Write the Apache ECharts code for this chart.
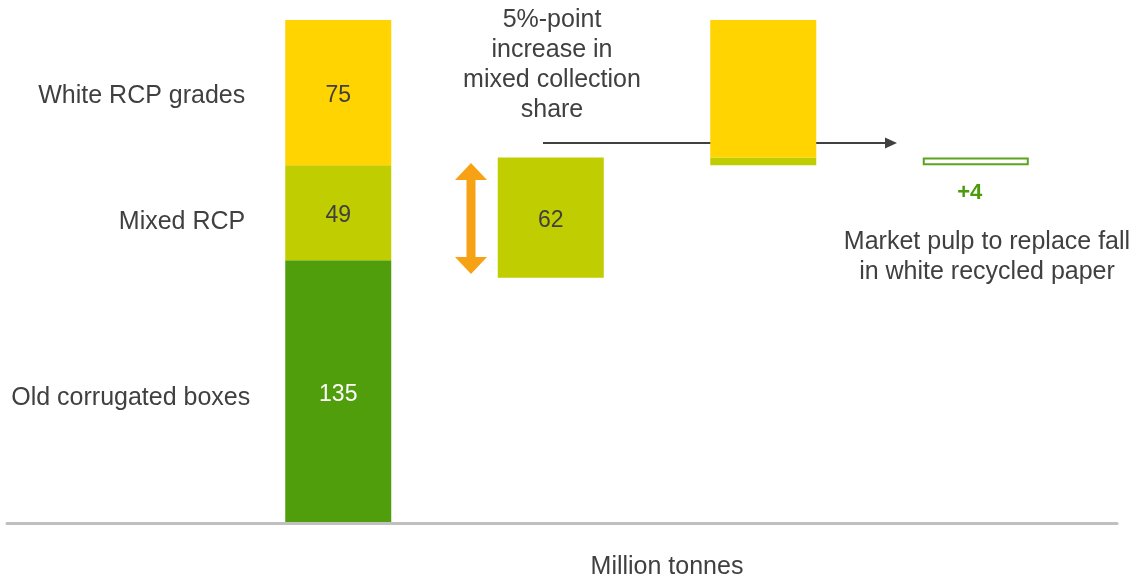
<!DOCTYPE html>
<html>
<head>
<meta charset="utf-8">
<style>
  html, body { margin: 0; padding: 0; background: #fff; }
  #chart { width: 1134px; height: 577px; }
</style>
<script src="https://cdn.jsdelivr.net/npm/echarts@6/dist/echarts.min.js"></script>
</head>
<body>
<div id="chart"></div>
<script>
  // columns of the waterfall
  var steps = ['Today', 'Mixed share', 'White fall', 'Market pulp'];
  // invisible offset under each floating column
  var baseValues = ['-', 126, 184, 184];
  var boxesValues = [135, '-', '-', '-'];
  var mixedValues = [49, 62, 4, '-'];
  var whiteValues = [75, '-', 71, '-'];
  var pulpValues = ['-', '-', '-', 4];
  // which columns print their value inside the bar
  var showValue = [true, true, false, false];
  var rowNames = ['Old corrugated boxes', 'Mixed RCP', 'White RCP grades'];
  var axisMax = 259;

  var font = "'Liberation Sans', Arial, sans-serif";
  var grey = '#404040';

  function items(values, color) {
    return values.map(function (v, i) {
      if (v === '-') return '-';
      return {value: v, label: {show: showValue[i], color: color}};
    });
  }

  // transparent copy of column 1, only to hang the row names on the left
  function nameSeries(name, idx) {
    var vals = [boxesValues[0], mixedValues[0], whiteValues[0]];
    var shift = [[5, 7], [0, 9], [0, 3]][idx];
    return {
      name: name,
      type: 'bar',
      stack: 'names',
      barWidth: 106,
      barGap: '-100%',
      silent: true,
      itemStyle: {color: 'transparent'},
      label: {
        show: true, position: 'left', distance: 40, offset: shift,
        formatter: '{a}', color: grey, fontSize: 25, fontFamily: font
      },
      data: [vals[idx], '-', '-', '-']
    };
  }

  var chart = echarts.init(document.getElementById('chart'));
  var valueLabel = {show: true, position: 'inside', offset: [0, 3], fontSize: 23, fontFamily: font};

  var option = {
    animation: false,
    grid: [
      {left: 232, right: 52, top: 20, bottom: 55, outerBoundsMode: 'none', containLabel: false},
      {left: 7, right: 17, top: 20, bottom: 53.5, outerBoundsMode: 'none', containLabel: false}
    ],
    xAxis: [
      {
        type: 'category', data: steps, gridIndex: 0,
        axisLine: {show: false}, axisTick: {show: false}, axisLabel: {show: false},
        name: 'Million tonnes', nameLocation: 'middle', nameGap: 33,
        nameTextStyle: {color: grey, fontSize: 25, fontFamily: font, padding: [0, 0, 0, 20]}
      },
      {
        type: 'value', gridIndex: 1, min: 0, max: 1,
        axisLine: {show: true, onZero: false, lineStyle: {color: '#c0c0c0', width: 3}},
        axisTick: {show: false}, axisLabel: {show: false}, splitLine: {show: false}
      }
    ],
    yAxis: [
      {type: 'value', gridIndex: 0, min: 0, max: axisMax, show: false},
      {type: 'value', gridIndex: 1, min: 0, max: 1, show: false}
    ],
    series: [
      {
        name: 'base', type: 'bar', stack: 'w', barWidth: 106, silent: true,
        itemStyle: {color: 'transparent'}, data: baseValues
      },
      {
        name: 'Old corrugated boxes', type: 'bar', stack: 'w', barWidth: 106,
        itemStyle: {color: '#519e0c'}, label: valueLabel,
        data: items(boxesValues, '#ffffff')
      },
      {
        name: 'Mixed RCP', type: 'bar', stack: 'w', barWidth: 106,
        itemStyle: {color: '#c0cd00'}, label: valueLabel,
        data: items(mixedValues, grey)
      },
      {
        name: 'White RCP grades', type: 'bar', stack: 'w', barWidth: 106,
        itemStyle: {color: '#ffd400'}, label: valueLabel,
        data: items(whiteValues, grey)
      },
      {
        name: 'Market pulp', type: 'bar', stack: 'w', barWidth: 106,
        itemStyle: {color: '#ffffff', borderColor: '#5aa51c', borderWidth: 2},
        label: {
          show: true, position: 'bottom', distance: 17,
          formatter: function (p) { return '+' + p.value; },
          color: '#4e9a0a', fontSize: 22, fontWeight: 'bold', fontFamily: font,
          offset: [-6, 0]
        },
        data: pulpValues
      },
      nameSeries(rowNames[0], 0),
      nameSeries(rowNames[1], 1),
      nameSeries(rowNames[2], 2)
    ],
    graphic: [
      {
        type: 'text', x: 552, y: 5,
        style: {
          text: '5%-point\nincrease in\nmixed collection\nshare',
          align: 'center', verticalAlign: 'top',
          fill: grey, font: '25px ' + font, lineHeight: 30
        }
      },
      {
        type: 'text', x: 987, y: 227,
        style: {
          text: 'Market pulp to replace fall\nin white recycled paper',
          align: 'center', verticalAlign: 'top',
          fill: grey, font: '25px ' + font, lineHeight: 30
        }
      },
      // horizontal arrow
      {
        type: 'line', shape: {x1: 543, y1: 143, x2: 886, y2: 143},
        style: {stroke: grey, lineWidth: 2}
      },
      {
        type: 'polygon', shape: {points: [[885, 137.5], [897, 143], [885, 148.5]]},
        style: {fill: grey}
      },
      // orange double arrow
      {
        type: 'polygon',
        shape: {points: [
          [471, 163], [487, 180], [475.5, 180], [475.5, 257], [487, 257], [471, 274],
          [455, 257], [466.5, 257], [466.5, 180], [455, 180]
        ]},
        style: {fill: '#f7a215'}
      }
    ]
  };

  chart.setOption(option);
</script>
</body>
</html>
